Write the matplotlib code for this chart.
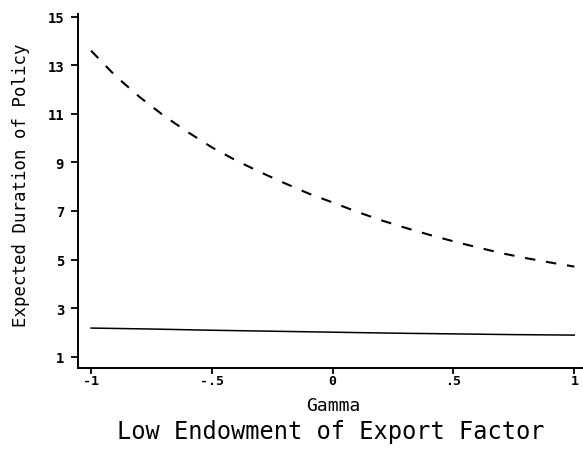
import matplotlib
matplotlib.use('Agg')
import matplotlib.pyplot as plt

# values
gamma = [-1.0, -0.9, -0.8, -0.7, -0.6, -0.5, -0.4, -0.3, -0.2, -0.1, 0.0,
         0.1, 0.2, 0.3, 0.4, 0.5, 0.6, 0.7, 0.8, 0.9, 1.0]
duration_high = [13.6, 12.57, 11.7, 10.93, 10.25, 9.62, 9.08, 8.6, 8.15, 7.72, 7.35,
                 6.97, 6.62, 6.31, 6.02, 5.75, 5.5, 5.26, 5.06, 4.88, 4.71]

gamma_low = [-1.0, -0.75, -0.5, -0.25, 0.0, 0.25, 0.5, 0.75, 1.0]
duration_low = [2.18, 2.14, 2.09, 2.05, 2.01, 1.97, 1.94, 1.91, 1.89]

xticks = [-1, -0.5, 0, 0.5, 1]
xtick_labels = ['-1', '-.5', '0', '.5', '1']
yticks = [1, 3, 5, 7, 9, 11, 13, 15]
ytick_labels = ['1', '3', '5', '7', '9', '11', '13', '15']

mono = 'DejaVu Sans Mono'

fig = plt.figure(figsize=(5.83, 4.52), dpi=100)
ax = fig.add_axes([0.1338, 0.1836, 0.8662, 0.7832])

ax.plot(gamma, duration_high, color='black', lw=1.5, ls=(0, (5.0, 5.2)))
ax.plot(gamma_low, duration_low, color='black', lw=1.1)

ax.set_xlim(-1.054, 1.036)
ax.set_ylim(0.535, 15.11)

for side in ('top', 'right'):
    ax.spines[side].set_visible(False)
for side in ('left', 'bottom'):
    ax.spines[side].set_linewidth(1.4)

ax.set_xticks(xticks)
ax.set_xticklabels(xtick_labels, fontfamily=mono, fontweight='bold', fontsize=9.5)
ax.set_yticks(yticks)
ax.set_yticklabels(ytick_labels, fontfamily=mono, fontweight='bold', fontsize=10)
ax.tick_params(axis='x', length=4, width=1.3, pad=0.5)
ax.tick_params(axis='y', length=5, width=1.3, pad=5)

ax.set_ylabel('Expected Duration of Policy', fontfamily=mono, fontsize=12.5,
              va='center')
ax.yaxis.set_label_coords(-0.112, 0.518)
ax.set_xlabel('Gamma', fontfamily=mono, fontsize=13, va='center')
ax.xaxis.set_label_coords(0.505, -0.1045)

ax.text(0.5, -0.178, 'Low Endowment of Export Factor', transform=ax.transAxes,
        ha='center', va='center', fontfamily=mono, fontsize=17)

fig.savefig('out.png', dpi=100)
